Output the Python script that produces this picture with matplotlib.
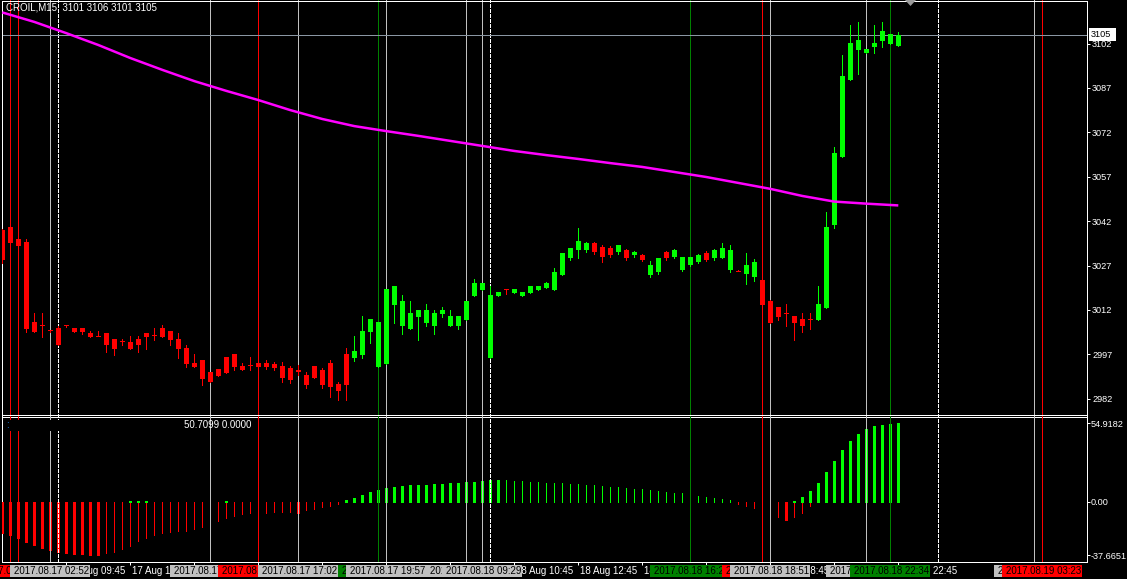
import matplotlib
matplotlib.use("Agg")
import matplotlib.pyplot as plt
from matplotlib.patches import Rectangle, Polygon
from matplotlib.transforms import blended_transform_factory

plt.rcParams['font.family'] = ['Liberation Sans', 'DejaVu Sans']
plt.rcParams['lines.scale_dashes'] = False

# ---------------- data ----------------
symbol_text = "CROIL,M15  3101 3106 3101 3105"
indicator_text = "50.7099 0.0000"
last_price = 3105

opens = [3039.0, 3040.1, 3036.0, 3035.0, 3007.9, 3006.8, 3005.0, 3005.9, 3006.8, 3005.9,
         3005.9, 3004.2, 3003.1, 3004.2, 3002.2, 3001.2, 3001.2, 3002.2, 3004.2, 3003.2,
         3005.9, 3004.9, 3002.2, 2999.2, 2994.1, 2995.1, 2991.0, 2992.0, 2996.1, 2997.1,
         2993.1, 2993.1, 2994.1, 2994.1, 2993.7, 2993.1, 2992.4, 2991.7, 2990.0, 2993.1,
         2991.7, 2994.0, 2987.0, 2997.1, 2995.8, 2996.8, 3004.5, 2992.7, 2993.7, 3013.7,
         3006.6, 3005.6, 3009.6, 3007.6, 3006.6, 3010.6, 3006.6, 3006.6, 3008.6, 3016.7,
         3018.7, 2995.8, 3016.7, 3018.8, 3017.7, 3016.7, 3017.7, 3018.7, 3019.4, 3018.7,
         3023.8, 3029.5, 3032.2, 3032.2, 3034.6, 3033.2, 3032.9, 3031.6, 3032.2, 3030.6,
         3030.6, 3023.8, 3024.8, 3031.6, 3029.9, 3025.5, 3027.2, 3028.2, 3031.2, 3029.5,
         3029.5, 3025.5, 3025.1, 3024.0, 3023.0, 3022.1, 3015.0, 3013.0, 3010.9, 3010.0,
         3008.9, 3008.8, 3008.7, 3012.8, 3040.7, 3063.8, 3089.8, 3099.9, 3098.9, 3100.9,
         3103.0, 3101.9, 3101.0]
highs = [3039.5, 3041.0, 3036.5, 3036.0, 3010.9, 3010.9, 3005.3, 3006.6, 3006.9, 3005.9,
         3005.9, 3004.9, 3004.9, 3004.2, 3002.2, 3002.2, 3003.2, 3003.2, 3004.2, 3005.9,
         3006.9, 3004.9, 3004.2, 3000.2, 2997.1, 2995.1, 2991.0, 2992.0, 2996.1, 2997.1,
         2994.1, 2996.1, 2994.1, 2995.1, 2994.4, 2994.4, 2993.1, 2993.4, 2991.0, 2993.1,
         2992.4, 2995.0, 2987.5, 2999.1, 3003.2, 3009.9, 3008.9, 3007.9, 3019.1, 3020.1,
         3017.0, 3015.0, 3012.0, 3014.0, 3012.0, 3013.0, 3012.0, 3010.0, 3015.0, 3022.5,
         3021.1, 3020.1, 3018.1, 3018.9, 3019.1, 3018.1, 3020.1, 3020.1, 3021.5, 3026.2,
         3031.2, 3033.0, 3039.7, 3035.0, 3035.0, 3034.0, 3033.5, 3034.0, 3032.6, 3032.0,
         3031.0, 3028.5, 3029.5, 3032.0, 3032.5, 3030.0, 3030.0, 3031.0, 3032.0, 3032.5,
         3034.5, 3033.8, 3025.5, 3031.2, 3029.2, 3022.5, 3015.5, 3013.0, 3013.9, 3010.0,
         3010.9, 3010.9, 3020.1, 3045.2, 3067.0, 3098.1, 3108.3, 3109.3, 3100.2, 3108.3,
         3109.3, 3105.2, 3106.0]
lows = [3028.0, 3034.0, 3033.0, 3004.7, 3004.7, 3002.9, 3004.7, 3000.0, 3006.3, 3004.7,
        3004.0, 3002.9, 3003.1, 2997.9, 2996.8, 3000.0, 2998.8, 2997.9, 2998.8, 3001.9,
        3002.9, 3000.0, 2995.9, 2992.7, 2992.7, 2986.6, 2987.6, 2989.7, 2990.7, 2991.7,
        2991.7, 2991.7, 2992.7, 2992.0, 2991.7, 2987.6, 2987.3, 2990.0, 2985.6, 2989.0,
        2985.6, 2982.7, 2981.6, 2981.6, 2994.7, 2995.8, 3000.8, 2992.7, 2993.7, 3007.6,
        3003.9, 3005.6, 3001.8, 3006.6, 3003.9, 3009.6, 3006.6, 3005.6, 3008.6, 3016.7,
        3018.7, 2995.8, 3016.7, 3017.5, 3017.7, 3016.7, 3017.7, 3018.7, 3019.4, 3018.7,
        3023.8, 3029.0, 3029.5, 3031.5, 3031.0, 3028.2, 3030.0, 3031.0, 3029.0, 3030.0,
        3028.5, 3023.0, 3024.0, 3029.0, 3029.5, 3025.0, 3027.0, 3028.0, 3028.5, 3029.0,
        3029.5, 3024.8, 3025.0, 3020.9, 3021.9, 3013.0, 3007.5, 3008.7, 3006.7, 3001.9,
        3004.7, 3005.7, 3008.7, 3012.8, 3039.6, 3063.8, 3089.8, 3091.8, 3098.9, 3098.9,
        3100.9, 3101.9, 3101.0]
closes = [3028.9, 3034.7, 3033.7, 3005.6, 3004.7, 3006.8, 3004.9, 3000.0, 3006.8, 3004.7,
          3004.7, 3002.9, 3003.1, 3000.0, 2998.8, 3001.2, 2998.8, 3000.0, 3002.9, 3003.2,
          3002.9, 3001.9, 2998.8, 2993.7, 2992.7, 2988.7, 2987.6, 2989.7, 2990.7, 2992.7,
          2991.7, 2993.1, 2992.7, 2992.7, 2992.4, 2989.0, 2988.3, 2991.0, 2986.6, 2989.0,
          2986.6, 2986.1, 2984.6, 2986.6, 2998.1, 3004.9, 3008.9, 3007.9, 3019.1, 3020.1,
          3015.0, 3011.0, 3012.0, 3012.0, 3011.0, 3012.0, 3010.0, 3010.0, 3015.0, 3021.1,
          3021.1, 3017.0, 3018.1, 3018.8, 3019.1, 3018.1, 3020.1, 3020.1, 3021.1, 3024.8,
          3031.2, 3032.9, 3035.3, 3034.6, 3031.6, 3029.9, 3030.6, 3033.9, 3029.5, 3031.6,
          3028.9, 3027.2, 3029.5, 3029.5, 3032.2, 3029.9, 3029.9, 3030.6, 3028.9, 3032.2,
          3032.9, 3032.2, 3025.1, 3027.2, 3028.2, 3013.8, 3007.7, 3009.7, 3010.9, 3007.7,
          3006.7, 3008.8, 3013.9, 3040.1, 3065.0, 3091.0, 3102.2, 3103.2, 3100.2, 3102.2,
          3106.2, 3105.2, 3105.0]

# moving average read at selected bars
ma_bars = [0, 4, 8, 12, 16, 20, 24, 28, 32, 36, 40, 44, 48, 52, 56, 60, 64, 68, 72, 76,
           80, 84, 88, 92, 96, 100, 104, 108, 112]
ma_vals = [3112.5, 3109.3, 3105.5, 3101.5, 3097.1, 3093.1, 3089.3, 3086.0, 3082.9, 3079.5,
           3076.5, 3074.1, 3072.4, 3070.8, 3069.1, 3067.4, 3065.7, 3064.3, 3063.0, 3061.6,
           3060.3, 3058.6, 3056.9, 3054.9, 3052.9, 3050.5, 3048.6, 3047.9, 3047.3]

# oscillator histogram (None = no bar)
red_hist = ([-21.7, -23.1, -25.2, -28.0, -30.2, -32.3, -33.7, -35.1, -35.8, -36.5,
             -36.8, -37.3, -37.67, -35.8, -35.1, -33.0, -30.9, -27.4, -25.2, -23.1,
             -21.7, -21.0, -20.3, -20.2, -18.9, -17.5, -15.5, -13.3, -11.2, -9.8,
             -8.4, -7.7, -7.65, -7.6, -7.55, -7.0, -6.9, -7.7, -5.8, -4.8,
             -3.8, -2.8, -1.6] + [None] * 49 +
            [-1.5, -3.0, -4.5, -6.5, -8.5, -10.5, -12.8, -10.7, -7.9, -3.0] + [None] * 11)
green_hist = ([None] * 16 + [0, 0, 0] + [None] * 9 + [0] + [None] * 14 +
              [1.0, 2.5, 4.5, 6.5, 8.0, 9.5, 10.5, 11.0, 11.5, 11.8, 12.0, 12.2, 12.5, 12.8,
               13.0, 13.5, 14.0, 14.5, 15.5, 15.3, 15.0, 14.7, 14.4, 14.0, 13.6, 13.2, 13.0,
               12.8, 12.5, 12.2, 11.8, 11.4, 11.0, 10.6, 10.2, 9.7, 9.2, 8.7, 8.2, 7.6, 7.0,
               6.4, 5.8, 5.0, 4.2, 3.4, 2.6, 1.8, 1.0] +
              [None] * 7 + [0] +
              [3.1, 7.5, 13.1, 20.8, 28.5, 36.3, 42.6, 47.5, 51.0, 53.1, 53.8, 54.5, 54.9182])
# bars drawn with the wide histogram style
red_wide_bars = list(range(0, 13)) + [37, 98]
green_wide_bars = list(range(43, 63)) + list(range(100, 113))

price_ticks = [2982, 2997, 3012, 3027, 3042, 3057, 3072, 3087, 3102]
osc_ticks = [-37.6651, 0.0, 54.9182]
osc_tick_labels = ["-37.6651", "0.00", "54.9182"]

time_ticks = [8, 16, 24, 32, 40, 48, 56, 64, 72, 80, 88, 96, 104, 112]
time_labels = ["17 Aug 09:45", "17 Aug 11:45", "17 Aug 13:45", "17 Aug 15:45",
               "17 Aug 17:45", "17 Aug 19:45", "17 Aug 21:45", "18 Aug 10:45",
               "18 Aug 12:45", "18 Aug 14:45", "18 Aug 16:45", "18 Aug 18:45",
               "18 Aug 20:45", "18 Aug 22:45"]

event_bars = [1, 2, 6, 7, 26, 32, 37, 47, 48, 58, 60, 61, 86, 95, 96, 108, 111, 117, 129, 130]
event_kind = ['red', 'red', 'silver', 'sep', 'silver', 'red', 'silver', 'green', 'silver',
              'silver', 'silver', 'sep', 'green', 'red', 'silver', 'silver', 'green', 'sep',
              'silver', 'red']
event_text = ['2017.08.17 00:21', '2017.08.17 00:41', '2017.08.17 02:52', '',
              '2017.08.17 12:13', '2017.08.17 15:36', '2017.08.17 17:02', '2017.08.17 19:41',
              '2017.08.17 19:57', '2017.08.17 22:10', '2017.08.18 09:29', '',
              '2017.08.18 16:25', '2017.08.18 18:31', '2017.08.18 18:51', '2017.08.18 21:58',
              '2017.08.18 22:34', '', '2017.08.19 03:05', '2017.08.19 03:23']

# ---------------- layout ----------------
W, H, DPI = 1127, 579, 100
PX = 72.0 / DPI
FS = 7
FS_AX = 6.6
BULL, BEAR = '#00FF00', '#FF0000'
KIND_COL = {'red': '#FF0000', 'green': '#008000', 'silver': '#C0C0C0', 'sep': '#FFFFFF'}

fig = plt.figure(figsize=(W / DPI, H / DPI), dpi=DPI, facecolor='black')


def fx(p):
    return p / W


def fy(p):
    return 1.0 - p / H


X0, X1 = 2, 1087
MAIN_TOP, MAIN_BOT = 0.5, 414.5
SUB_TOP, SUB_BOT = 416.5, 562
BAR_PX, FIRST_PX = 8.0, 2.3
XLIM = ((X0 - FIRST_PX) / BAR_PX, (X1 - FIRST_PX) / BAR_PX)
P0, PPU = 3116.7, 2.96          # price at pixel row 0, pixels per price unit
Z0, OPU = 501.7, 1.426          # zero row of oscillator, pixels per unit

bg = fig.add_axes([fx(X0), fy(SUB_BOT), (X1 - X0) / W, SUB_BOT / H], zorder=0)
bg.set_facecolor('black')
bg.set_xlim(*XLIM)
bg.set_ylim(0, 1)
bg.axis('off')

main = fig.add_axes([fx(X0), fy(MAIN_BOT), (X1 - X0) / W, (MAIN_BOT - MAIN_TOP) / H], zorder=1)
sub = fig.add_axes([fx(X0), fy(SUB_BOT), (X1 - X0) / W, (SUB_BOT - SUB_TOP) / H], zorder=2)
for ax in (main, sub):
    ax.set_facecolor('none')
    ax.set_xlim(*XLIM)
    for s in ax.spines.values():
        s.set_color('white')
        s.set_linewidth(PX)
main.set_ylim(P0 - MAIN_BOT / PPU, P0 - MAIN_TOP / PPU)
sub.set_ylim((Z0 - SUB_BOT) / OPU, (Z0 - SUB_TOP) / OPU)


# vertical event lines (behind candles, over histogram)
def draw_events(ax, z):
    for k, kind in zip(event_bars, event_kind):
        if kind == 'sep':
            ax.axvline(k, color='white', lw=PX, ls=(0, (4 * PX, 2 * PX)), zorder=z,
                       antialiased=False)
        else:
            ax.axvline(k, color=KIND_COL[kind], lw=PX, zorder=z, antialiased=False)


draw_events(bg, 1)
draw_events(sub, 6)

# candles
n = len(opens)
idx = list(range(n))
cols = [BULL if c > o else BEAR for o, c in zip(opens, closes)]
onepx = 1.0 / PPU
main.vlines(idx, lows, highs, colors=cols, lw=PX, zorder=3, antialiased=False)
bottoms = [min(o, c) if abs(c - o) >= onepx else (o - onepx / 2) for o, c in zip(opens, closes)]
heights = [max(abs(c - o), onepx) for o, c in zip(opens, closes)]
main.bar(idx, heights, bottom=bottoms, width=5 / BAR_PX, color=cols, linewidth=0,
         zorder=4, antialiased=False)

# moving average
main.plot(ma_bars, ma_vals, color='#FF00FF', lw=2.5 * PX, zorder=5, solid_capstyle='butt')

# bid line and price label
main.axhline(last_price, color='#8a96a3', lw=PX, zorder=2, antialiased=False)
bl = blended_transform_factory(fig.transFigure, main.transData)
main.add_artist(Rectangle((fx(1089), last_price - 6.5 / PPU), fx(27), 13 / PPU, transform=bl,
                          facecolor='white', edgecolor='none', clip_on=False, zorder=10))
main.text(fx(1091), last_price, str(last_price), transform=bl, color='black', fontsize=FS_AX,
          va='center', ha='left', clip_on=False, zorder=11)

# price axis
main.yaxis.tick_right()
main.set_yticks(price_ticks)
main.set_yticklabels([str(t) for t in price_ticks])
main.tick_params(axis='y', colors='white', length=3 * PX, width=PX, pad=2 * PX,
                 labelsize=FS_AX)
main.set_xticks([])


# oscillator histogram
def draw_hist(vals, wide, colr):
    for k, v in enumerate(vals):
        if v is None:
            continue
        top = v if v != 0 else 1.0 / OPU
        lw = 3 * PX if (k in wide or v == 0) else PX
        sub.vlines(k, 0, top, colors=colr, lw=lw, zorder=3, antialiased=False)


draw_hist(red_hist, red_wide_bars, BEAR)
draw_hist(green_hist, green_wide_bars, BULL)

sub.yaxis.tick_right()
sub.set_yticks(osc_ticks)
sub.set_yticklabels(osc_tick_labels)
sub.tick_params(axis='y', colors='white', length=3 * PX, width=PX, pad=1 * PX,
                labelsize=FS_AX)
sub.set_xticks(time_ticks)
sub.tick_params(axis='x', colors='white', length=3 * PX, width=PX, direction='out',
                labelbottom=False)

# header texts
fig.text(fx(6), fy(8), symbol_text, color='white', fontsize=FS, va='center', ha='left', zorder=10)
fig.add_artist(Rectangle((fx(3), fy(431)), fx(57), 11 / H, transform=fig.transFigure,
                         facecolor='black', edgecolor='none', zorder=8))
fig.text(fx(6), fy(425), ":", color='#1E90FF', fontsize=FS, va='center', ha='left', zorder=9)
fig.text(fx(184), fy(425), indicator_text, color='white', fontsize=FS, va='center', ha='left',
         zorder=10)

# chart-shift marker
fig.add_artist(Polygon([(fx(905), fy(0)), (fx(916), fy(0)), (fx(910.5), fy(6))],
                       closed=True, transform=fig.transFigure, facecolor='#9a9a9a',
                       edgecolor='none', zorder=10))

# time axis labels
bt = blended_transform_factory(sub.transData, fig.transFigure)
for k, lab in zip(time_ticks, time_labels):
    fig.text(k + 2 / BAR_PX, fy(571), lab, transform=bt, color='white', fontsize=FS,
             va='center', ha='left', zorder=3)

z = 4.0
for k, kind, lab in zip(event_bars, event_kind, event_text):
    if kind == 'sep':
        continue
    fig.add_artist(Rectangle((k - 40 / BAR_PX, fy(577)), 80 / BAR_PX, 12 / H, transform=bt,
                             facecolor=KIND_COL[kind], edgecolor='none', zorder=z))
    fig.text(k - 36 / BAR_PX, fy(571), lab, transform=bt, color='black', fontsize=FS,
             va='center', ha='left', zorder=z + 0.005)
    z += 0.01

fig.savefig('out.png', dpi=DPI, facecolor='black')
